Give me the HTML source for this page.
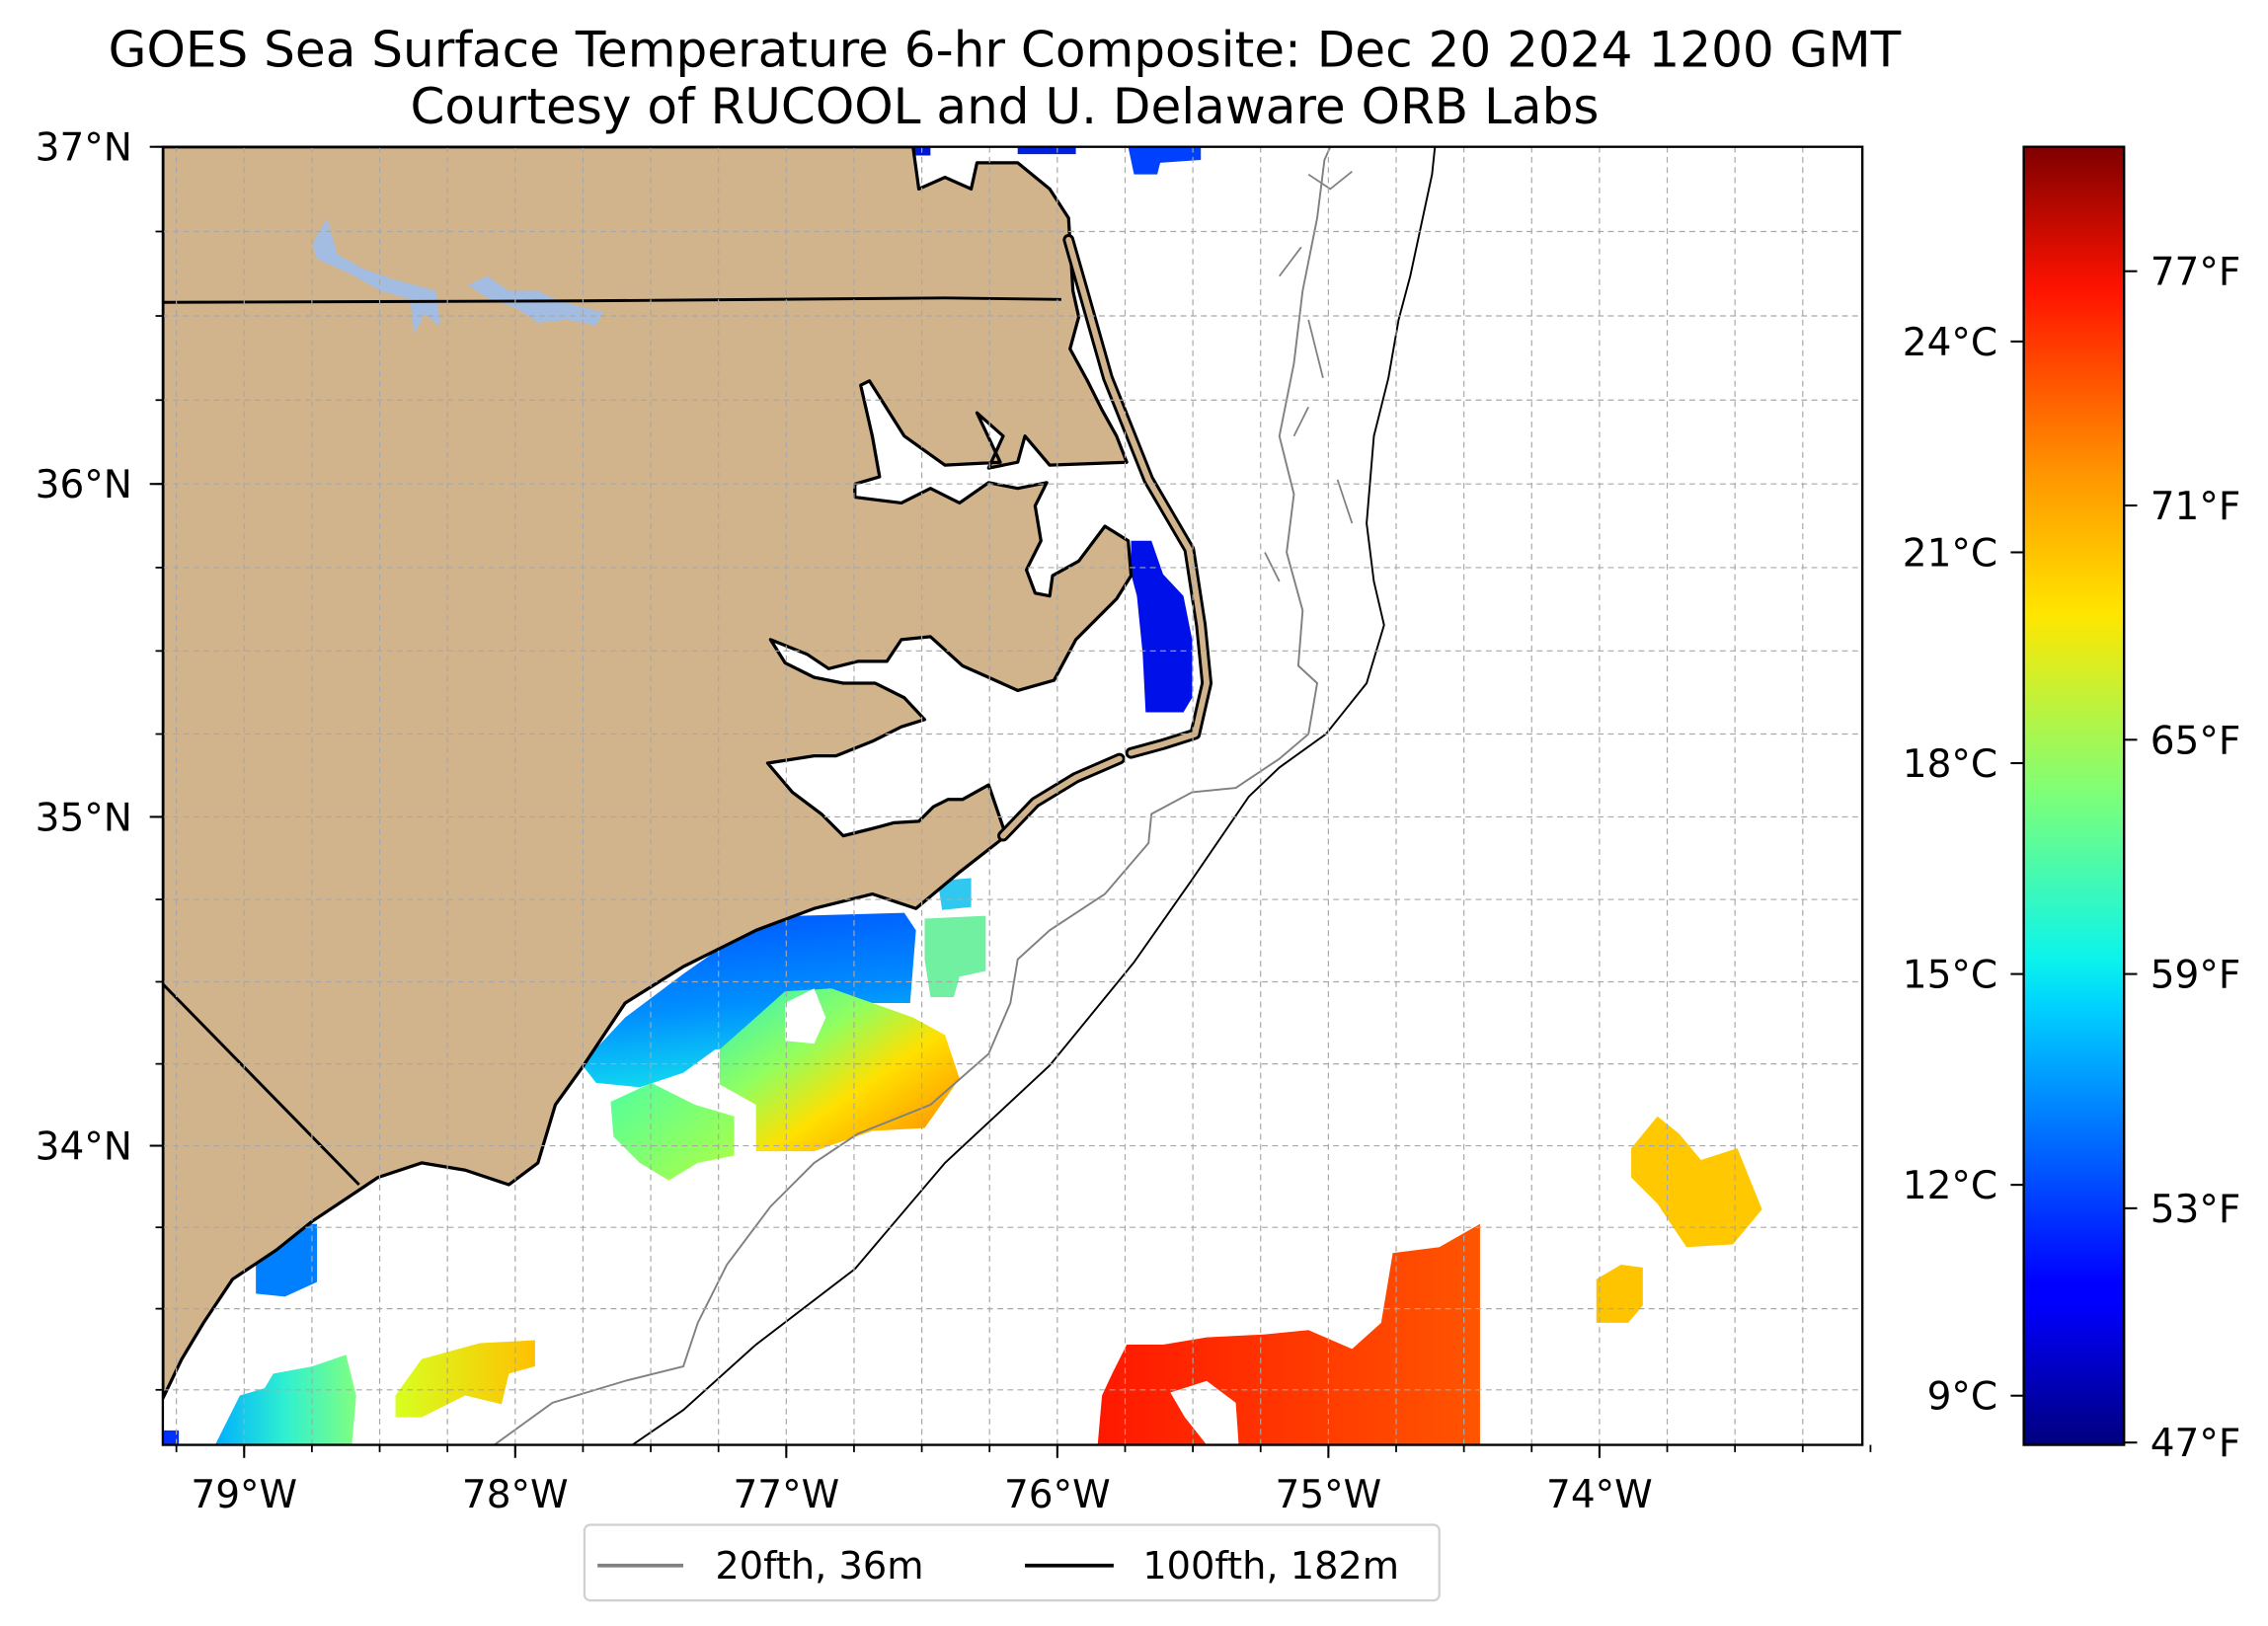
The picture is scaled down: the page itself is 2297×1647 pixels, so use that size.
<!DOCTYPE html>
<html><head><meta charset="utf-8"><style>
html,body{margin:0;padding:0;background:#fff;}
svg{display:block;font-family:"DejaVu Sans","Liberation Sans",sans-serif;}
</style></head><body>
<svg id="fig" width="2297" height="1647" viewBox="0 0 1560 1118.6" preserveAspectRatio="none" xmlns="http://www.w3.org/2000/svg">
<defs>
<linearGradient id="jet" x1="0" y1="1" x2="0" y2="0">
<stop offset="0" stop-color="#00007f"/><stop offset="0.11" stop-color="#0000ff"/><stop offset="0.125" stop-color="#0000ff"/><stop offset="0.34" stop-color="#00d4ff"/><stop offset="0.375" stop-color="#0cf4eb"/><stop offset="0.5" stop-color="#7cff79"/><stop offset="0.64" stop-color="#ffe600"/><stop offset="0.75" stop-color="#ff9400"/><stop offset="0.89" stop-color="#ff1300"/><stop offset="1" stop-color="#7f0000"/>
</linearGradient>
<linearGradient id="gBlue" x1="0" y1="0" x2="0.2" y2="1"><stop offset="0" stop-color="#0050ff"/><stop offset="0.6" stop-color="#0090ff"/><stop offset="1" stop-color="#10d8f0"/></linearGradient>
<linearGradient id="gWarm" x1="0" y1="0" x2="1" y2="1"><stop offset="0" stop-color="#30f0c0"/><stop offset="0.35" stop-color="#90ff60"/><stop offset="0.6" stop-color="#ffe000"/><stop offset="1" stop-color="#ff8000"/></linearGradient>
<linearGradient id="gGreen" x1="0" y1="0" x2="1" y2="1"><stop offset="0" stop-color="#50ffa0"/><stop offset="1" stop-color="#b0ff40"/></linearGradient>
<linearGradient id="gCyan" x1="0" y1="0" x2="1" y2="0"><stop offset="0" stop-color="#00b0ff"/><stop offset="0.5" stop-color="#30f0d0"/><stop offset="1" stop-color="#80ff80"/></linearGradient>
<linearGradient id="gYel" x1="0" y1="0" x2="1" y2="0"><stop offset="0" stop-color="#d8ff20"/><stop offset="1" stop-color="#ffc000"/></linearGradient>
<linearGradient id="gRed" x1="0" y1="0" x2="1" y2="0"><stop offset="0" stop-color="#ff1800"/><stop offset="1" stop-color="#ff5500"/></linearGradient>
<clipPath id="mapclip"><rect x="112" y="101" width="1169" height="893"/></clipPath>
</defs>

<text x="691" y="46" font-size="34" text-anchor="middle">GOES Sea Surface Temperature 6-hr Composite: Dec 20 2024 1200 GMT</text>
<text x="691" y="85" font-size="34" text-anchor="middle">Courtesy of RUCOOL and U. Delaware ORB Labs</text>

<g clip-path="url(#mapclip)">
<rect x="112" y="101" width="1169" height="893" fill="#fff"/>
<g>
<path fill="#0010e8" d="M778,372 L792,372 L800,395 L814,410 L820,440 L820,480 L814,490 L788,490 L786,450 L782,410 L778,395Z"/>
<path fill="#0018d0" d="M622,101 L640,101 L640,107 L622,107Z"/>
<path fill="#0020e0" d="M700,101 L740,101 L740,106 L700,106Z"/>
<path fill="#0040ff" d="M776,101 L826,101 L826,110 L798,112 L796,120 L780,120Z"/>
<path fill="url(#gBlue)" d="M400,732 L430,700 L470,670 L510,642 L550,630 L622,628 L630,640 L626,690 L600,690 L570,680 L540,698 L520,720 L492,722 L470,738 L440,748 L410,745Z"/>
<path fill="url(#gWarm)" d="M495,722 L540,682 L572,680 L600,690 L628,700 L650,712 L660,742 L636,776 L600,778 L560,792 L520,792 L520,760 L495,746Z"/>
<path fill="#fff" d="M540,690 L560,680 L568,700 L560,718 L540,716Z"/>
<path fill="url(#gGreen)" d="M420,758 L448,745 L478,760 L505,768 L505,795 L480,800 L460,812 L440,800 L422,782Z"/>
<path fill="#70f0a0" d="M636,632 L678,630 L678,668 L660,672 L656,686 L640,686 L636,660Z"/>
<path fill="#30c8f0" d="M645,606 L668,604 L668,624 L648,626Z"/>
<path fill="#0080ff" d="M190,856 L205,842 L218,842 L218,882 L196,892 L176,890 L176,870Z"/>
<path fill="url(#gCyan)" d="M148,994 L165,960 L182,955 L188,945 L215,940 L238,932 L245,960 L242,994Z"/>
<path fill="url(#gYel)" d="M272,960 L290,935 L330,924 L368,922 L368,940 L350,945 L345,966 L320,960 L290,975 L272,975Z"/>
<path fill="url(#gRed)" d="M755,994 L758,960 L765,945 L775,925 L800,925 L830,920 L870,918 L900,915 L930,928 L950,910 L958,862 L990,858 L1018,842 L1018,994Z"/>
<path fill="#fff" d="M805,958 L830,950 L850,965 L852,994 L830,994 L815,975Z"/>
<path fill="#ffc400" d="M1098,880 L1115,870 L1130,872 L1130,898 L1120,910 L1098,910Z"/>
<path fill="#ffc800" d="M1122,790 L1140,768 L1155,780 L1170,798 L1195,790 L1212,832 L1192,856 L1160,858 L1140,828 L1122,810Z"/>
<path fill="#0030ff" d="M112,984 L123,984 L123,994 L112,994Z"/>
</g>
<path fill="none" stroke="#808080" stroke-width="1.3" d="M340,994 L380,965 L430,950 L470,940 L480,910 L500,870 L530,830 L560,800 L590,780 L640,760 L680,725 L695,690 L700,660 L722,640 L760,615 L790,580 L792,560 L820,545 L850,542 L880,522 L900,505 L906,470 L893,458 L896,420 L885,380 L890,340 L880,300 L890,250 L896,200 L906,150 L911,110 L915,101"/>
<path fill="none" stroke="#808080" stroke-width="1.2" d="M900,120 L915,130 L930,118 M880,190 L895,170 M900,220 L910,260 M920,330 L930,360 M870,380 L880,400 M900,280 L890,300"/>
<path fill="none" stroke="#000" stroke-width="1.3" d="M435,994 L470,970 L520,925 L588,873 L650,800 L722,733 L780,662 L820,605 L859,548 L880,528 L912,505 L940,470 L952,430 L945,400 L940,360 L945,300 L955,260 L962,220 L970,190 L985,120 L987,101"/>
<path fill="#d2b48c" stroke="#000" stroke-width="2.2" stroke-linejoin="round" d="M112,101 L628,101 L632,130 L650,122 L668,130 L672,112 L700,112 L722,130 L735,150 L738,200 L742,218 L736,240 L748,262 L758,282 L768,300 L775,318 L722,320 L705,300 L700,318 L680,322 L690,300 L672,284 L688,318 L650,320 L622,300 L598,262 L592,265 L600,300 L605,328 L588,333 L588,342 L620,346 L640,336 L660,346 L680,332 L700,336 L720,332 L712,348 L716,372 L706,392 L712,408 L722,410 L724,396 L742,386 L760,362 L776,372 L778,396 L768,412 L740,440 L725,468 L700,475 L680,466 L662,458 L640,438 L620,440 L610,455 L590,455 L570,460 L555,450 L530,440 L540,456 L560,466 L580,470 L602,470 L622,480 L636,495 L620,500 L600,510 L575,520 L560,520 L528,525 L545,545 L565,560 L580,575 L600,570 L615,566 L632,565 L642,555 L652,550 L662,550 L680,540 L692,575 L660,600 L630,625 L600,615 L560,625 L520,640 L500,650 L470,665 L430,690 L400,735 L382,760 L370,800 L350,815 L320,805 L290,800 L260,810 L245,820 L215,840 L190,860 L160,880 L140,910 L125,935 L112,962Z"/>
<path fill="none" stroke="#000" stroke-width="8" stroke-linejoin="round" stroke-linecap="round" d="M735,165 L745,200 L762,260 L790,330 L818,378 L826,430 L830,470 L822,505 L800,512 L778,518 M770,522 L740,535 L712,552 L690,575"/>
<path fill="none" stroke="#d2b48c" stroke-width="4" stroke-linejoin="round" stroke-linecap="round" d="M735,165 L745,200 L762,260 L790,330 L818,378 L826,430 L830,470 L822,505 L800,512 L778,518 M770,522 L740,535 L712,552 L690,575"/>
<path fill="#a2bce2" d="M215,168 L225,150 L232,175 L250,185 L270,192 L285,196 L300,200 L303,225 L292,216 L285,230 L282,206 L262,200 L240,188 L218,178Z"/>
<path fill="#a2bce2" d="M322,196 L335,190 L350,200 L370,200 L380,205 L395,210 L415,215 L410,224 L390,220 L370,222 L355,212 L335,205Z"/>
<path fill="none" stroke="#000" stroke-width="2" d="M112,208 L400,207 L650,205 L730,206"/>
<path fill="none" stroke="#000" stroke-width="2" d="M112,677 L247,815"/>
<g id="grid"></g>
</g>
<rect x="112" y="101" width="1169" height="893" fill="none" stroke="#000" stroke-width="1.6"/>
<g id="axes"></g>

<rect x="1392" y="101" width="69" height="893" fill="url(#jet)" stroke="#000" stroke-width="1.6"/>
<g id="cbaxes"></g>

<g>
<rect x="402" y="1049" width="588" height="52" rx="4" fill="#fff" stroke="#d0d0d0" stroke-width="1.5"/>
<line x1="411" y1="1077" x2="470" y2="1077" stroke="#808080" stroke-width="2.5"/>
<text x="492" y="1086" font-size="26">20fth, 36m</text>
<line x1="705" y1="1077" x2="766" y2="1077" stroke="#000" stroke-width="2.5"/>
<text x="786" y="1086" font-size="26">100fth, 182m</text>
</g>
</svg>
<script>
const lonTicks = [-79, -78, -77, -76, -75, -74];
const lonTickLabels = ["79°W", "78°W", "77°W", "76°W", "75°W", "74°W"];
const latTicks = [34, 35, 36, 37];
const latTickLabels = ["34°N", "35°N", "36°N", "37°N"];
const cTicks = [9, 12, 15, 18, 21, 24];
const cTickLabels = ["9°C", "12°C", "15°C", "18°C", "21°C", "24°C"];
const fTicks = [47, 53, 59, 65, 71, 77];
const fTickLabels = ["47°F", "53°F", "59°F", "65°F", "71°F", "77°F"];

const NS = "http://www.w3.org/2000/svg";
const LON0 = -79.3, LON1 = -73.03, LAT0 = 33.08, LAT1 = 37.0;
const X0 = 112, X1 = 1281, Y0 = 101, Y1 = 994;
function merc(lat){ return Math.log(Math.tan(Math.PI/4 + lat*Math.PI/360)); }
function xOf(lon){ return X0 + (lon - LON0) / (LON1 - LON0) * (X1 - X0); }
function yOf(lat){ return Y0 + (merc(LAT1) - merc(lat)) / (merc(LAT1) - merc(LAT0)) * (Y1 - Y0); }
const CMIN = 8.3, CMAX = 26.77;
function yC(c){ return Y1 - (c - CMIN) / (CMAX - CMIN) * (Y1 - Y0); }
function yF(f){ return yC((f - 32) * 5 / 9); }
function mk(tag, attrs, parent){ const e = document.createElementNS(NS, tag); for (const k in attrs) e.setAttribute(k, attrs[k]); parent.appendChild(e); return e; }

const grid = document.getElementById('grid');
const axes = document.getElementById('axes');
for (let lon = -79.25; lon <= -73.0; lon += 0.25) {
  const x = xOf(lon);
  const g = mk('line', {x1:x, y1:Y0, x2:x, y2:Y1, stroke:'#a8a8a8', 'stroke-width':0.8, 'stroke-dasharray':'4,3'}, grid);
  
  
  const t = mk('line', {x1:x, y1:Y1, x2:x, y2:Y1+5, stroke:'#000', 'stroke-width':1.2}, axes);
  
  
}
for (let lat = 33.25; lat <= 37.0; lat += 0.25) {
  const y = yOf(lat);
  const g = mk('line', {x1:X0, y1:y, x2:X1, y2:y, stroke:'#a8a8a8', 'stroke-width':0.8, 'stroke-dasharray':'4,3'}, grid);
  
  
  const t = mk('line', {x1:X0-5, y1:y, x2:X0, y2:y, stroke:'#000', 'stroke-width':1.2}, axes);
  
  
}
lonTicks.forEach((lon, i) => {
  const x = xOf(lon);
  const t = mk('line', {x1:x, y1:Y1, x2:x, y2:Y1+9, stroke:'#000', 'stroke-width':1.4}, axes);
  
  
  const l = mk('text', {x:x, y:1037, 'font-size':26.5, 'text-anchor':'middle'}, axes);
  l.textContent = lonTickLabels[i];
  
  
});
latTicks.forEach((lat, i) => {
  const y = yOf(lat);
  const t = mk('line', {x1:X0-9, y1:y, x2:X0, y2:y, stroke:'#000', 'stroke-width':1.4}, axes);
  
  
  const l = mk('text', {x:91, y:y+9.5, 'font-size':26.5, 'text-anchor':'end'}, axes);
  l.textContent = latTickLabels[i];
  
  
});
const cb = document.getElementById('cbaxes');
cTicks.forEach((c, i) => {
  const y = yC(c);
  const t = mk('line', {x1:1383, y1:y, x2:1392, y2:y, stroke:'#000', 'stroke-width':1.4}, cb);
  
  
  const l = mk('text', {x:1374, y:y+9.5, 'font-size':26.5, 'text-anchor':'end'}, cb);
  l.textContent = cTickLabels[i];
  
  
});
fTicks.forEach((f, i) => {
  const y = yF(f);
  const t = mk('line', {x1:1461, y1:y, x2:1470, y2:y, stroke:'#000', 'stroke-width':1.4}, cb);
  
  
  const l = mk('text', {x:1479, y:y+9.5, 'font-size':26.5, 'text-anchor':'start'}, cb);
  l.textContent = fTickLabels[i];
  
  
});
</script>
</body></html>
